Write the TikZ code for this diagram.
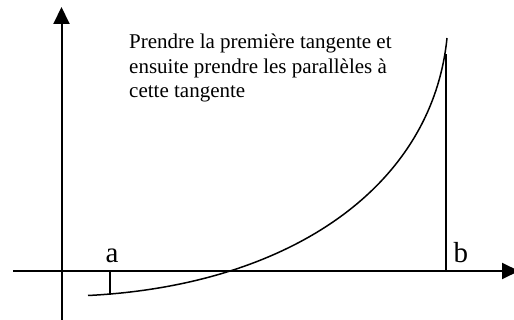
\documentclass[tikz,border=0pt]{standalone}
\usepackage{fontspec}
\setmainfont{Liberation Serif}
\usetikzlibrary{arrows.meta}
\begin{document}
\begin{tikzpicture}[x=1pt,y=-1pt,
  axisline/.style={line width=2pt,-{Triangle[length=17pt,width=16pt]}},
  curveline/.style={line width=1.5pt},
  boundline/.style={line width=1.6pt},
  endlabel/.style={inner sep=0pt,font=\fontsize{29}{29}\selectfont},
  note/.style={inner sep=0pt,align=left,font=\fontsize{21}{24.5}\selectfont}]
\useasboundingbox (0,0) rectangle (514,320);
% axes
\coordinate (xs) at (13,271);
\coordinate (xe) at (519,271);
\coordinate (ys) at (61.5,322);
\coordinate (ye) at (61.5,7);
\draw[axisline] (xs) -- (xe);
\draw[axisline] (ys) -- (ye);
% curve
\coordinate (cstart) at (88,295.5);
\coordinate (cend) at (447,38);
\draw[curveline] (cstart) .. controls (288,285.5) and (432,188) .. (cend);
% bounds
\coordinate (afoot) at (110,271);
\coordinate (atop) at (110,294.6);
\coordinate (bfoot) at (446,271);
\coordinate (btop) at (446,54);
\draw[boundline] (afoot) -- (atop);
\draw[boundline] (bfoot) -- (btop);
% labels
\node[endlabel,anchor=base west] (a) at (105.5,263) {a};
\node[endlabel,anchor=base west] (b) at (453.5,263) {b};
\node[note,anchor=north west] (txt) at (129,34) {Prendre la première tangente et\\ensuite prendre les parallèles à\\cette tangente};
\end{tikzpicture}
\end{document}
